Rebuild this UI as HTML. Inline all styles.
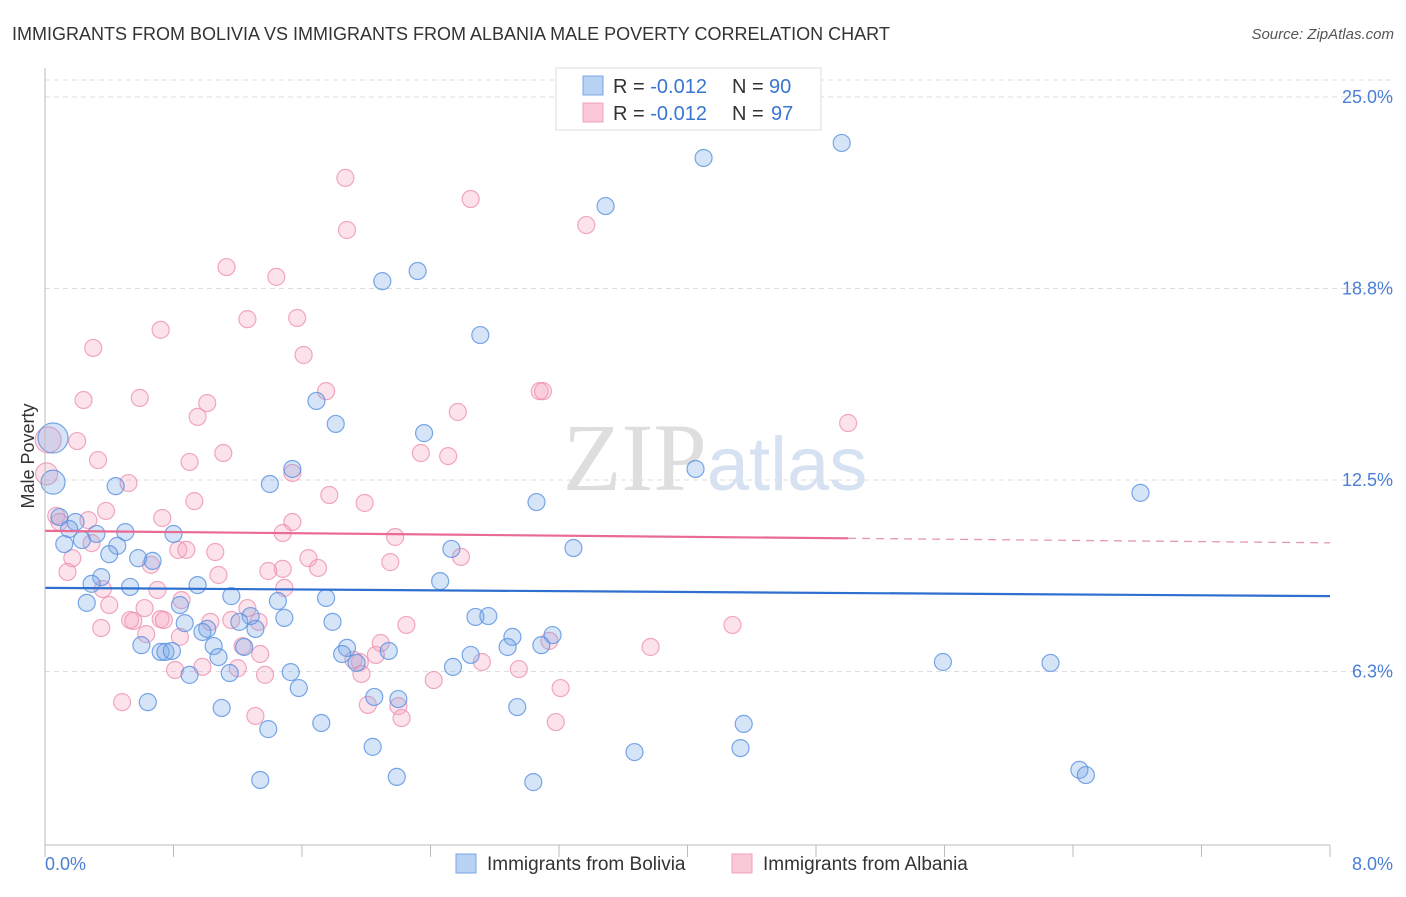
<!DOCTYPE html>
<html><head><meta charset="utf-8"><style>
body{margin:0;background:#fff;font-family:"Liberation Sans",sans-serif;}
svg text{font-family:"Liberation Sans",sans-serif;}
</style></head><body>
<svg width="1406" height="892" viewBox="0 0 1406 892">
<text x="12" y="40" font-size="18" fill="#333">IMMIGRANTS FROM BOLIVIA VS IMMIGRANTS FROM ALBANIA MALE POVERTY CORRELATION CHART</text>
<text x="1394" y="39" font-size="15" fill="#555" text-anchor="end" font-style="italic">Source: ZipAtlas.com</text>
<g id="grid"></g>
<text x="715" y="490" font-size="96" fill="#e4e4e4" text-anchor="middle" font-family="Liberation Serif"><tspan fill="#dedede" font-family="Liberation Serif">ZIP</tspan><tspan fill="#d6e2f2" font-size="76" font-family="Liberation Sans">atlas</tspan></text>
<g id="pts"></g>
<g id="lines"></g>
<line x1="45" y1="68" x2="45" y2="845" stroke="#bbb"/>
<line x1="45" y1="845" x2="1330" y2="845" stroke="#bbb"/>
<g id="xt"></g>
<text x="45" y="870" font-size="18" fill="#4a7fd4">0.0%</text>
<text x="1393" y="870" font-size="18" fill="#4a7fd4" text-anchor="end">8.0%</text>
<text x="34" y="456" font-size="18" fill="#333" text-anchor="middle" transform="rotate(-90 34 456)">Male Poverty</text>
<g>
<rect x="556" y="68" width="265" height="62" fill="#fff" stroke="#ddd"/>
<rect x="583" y="76" width="20" height="19" fill="#b8d2f4" stroke="#7aa6e6"/>
<rect x="583" y="103" width="20" height="19" fill="#fbc8d8" stroke="#f0a0bc"/>
<text x="613" y="93" font-size="20" fill="#333">R = <tspan fill="#3a75d0">-0.012</tspan></text>
<text x="732" y="93" font-size="20" fill="#333">N = </text>
<text x="769" y="93" font-size="20" fill="#3a75d0">90</text>
<text x="613" y="120" font-size="20" fill="#333">R = <tspan fill="#3a75d0">-0.012</tspan></text>
<text x="732" y="120" font-size="20" fill="#333">N = </text>
<text x="771" y="120" font-size="20" fill="#3a75d0">97</text>
</g>
<g>
<rect x="456" y="854" width="20" height="19" fill="#b8d2f4" stroke="#7aa6e6"/>
<text x="487" y="870" font-size="19" fill="#333">Immigrants from Bolivia</text>
<rect x="732" y="854" width="20" height="19" fill="#fbc8d8" stroke="#f0a0bc"/>
<text x="763" y="870" font-size="19" fill="#333">Immigrants from Albania</text>
</g>
</svg>
<script>
const yTicks=[25.0,18.75,12.5,6.25];
const yTickLabels=["25.0%","18.8%","12.5%","6.3%"];
const blueX=[0.05,0.05,4.96,4.10,3.49,2.32,2.10,2.71,1.69,1.81,2.36,1.54,1.40,4.05,3.06,6.82,0.44,0.09,0.19,0.15,0.32,0.50,0.80,0.12,0.23,0.45,0.40,0.58,0.67,2.53,3.29,0.35,0.53,0.29,0.95,1.16,2.46,0.26,0.84,1.45,1.75,0.87,1.28,1.21,1.49,1.79,2.68,2.76,1.01,0.98,1.31,0.60,0.72,0.75,0.79,1.05,1.24,1.88,1.85,2.14,2.91,2.88,3.16,3.09,1.08,1.94,2.65,2.54,1.53,1.15,0.90,1.58,2.05,2.20,0.64,1.10,2.94,1.72,1.39,4.35,2.04,4.33,3.67,5.59,6.26,6.44,6.48,1.34,2.19,3.04];
const blueY=[13.87,12.43,23.50,23.01,21.44,19.32,18.99,17.23,15.08,14.33,14.03,12.86,12.37,12.86,11.78,12.08,12.30,11.29,11.13,10.90,10.74,10.80,10.74,10.41,10.54,10.35,10.08,9.95,9.86,10.25,10.28,9.33,9.01,9.11,9.07,8.71,9.20,8.49,8.42,8.55,8.65,7.83,8.06,7.87,8.00,7.87,8.03,8.06,7.64,7.54,7.64,7.11,6.89,6.89,6.92,7.08,7.05,7.02,6.82,6.92,7.38,7.05,7.44,7.11,6.72,6.53,6.79,6.40,6.23,6.20,6.14,5.71,5.42,5.35,5.25,5.06,5.09,4.57,4.37,4.54,3.79,3.75,3.62,6.56,6.53,3.04,2.87,2.71,2.81,2.64];
const pinkX=[1.87,2.65,3.37,1.88,1.13,1.44,1.57,1.26,0.72,0.30,1.61,0.24,0.59,1.75,3.08,3.10,2.57,1.01,0.95,5.00,0.02,0.20,1.11,2.34,2.51,0.33,0.90,1.54,0.01,0.52,0.93,1.77,1.99,0.07,0.38,0.73,0.09,0.27,1.54,1.48,2.18,0.29,0.83,0.88,1.06,1.64,2.59,0.66,0.17,0.14,2.15,1.70,1.48,1.39,1.08,0.36,1.49,0.70,0.40,0.62,0.85,1.26,0.53,0.55,0.72,0.74,1.03,0.35,0.63,1.16,1.33,2.25,4.28,0.84,1.23,1.34,2.09,3.14,3.77,2.06,1.96,1.92,2.72,2.95,0.81,0.98,1.20,1.37,1.97,2.42,3.21,0.48,1.31,2.20,2.01,2.22,3.18];
const pinkY=[22.36,21.67,20.82,20.66,19.45,19.13,17.79,17.75,17.40,16.81,16.58,15.11,15.18,15.40,15.40,15.40,14.72,15.01,14.56,14.36,13.81,13.77,13.38,13.38,13.28,13.15,13.09,12.73,12.70,12.40,11.81,12.01,11.75,11.33,11.49,11.26,11.13,11.19,11.13,10.77,10.64,10.44,10.22,10.22,10.15,9.95,9.99,9.73,9.95,9.50,9.82,9.63,9.60,9.53,9.40,8.94,8.98,8.91,8.42,8.32,8.58,8.32,7.93,7.90,7.96,7.93,7.87,7.67,7.47,7.93,7.87,7.77,7.77,7.38,7.08,6.82,7.18,7.25,7.05,6.79,6.56,6.63,6.56,6.33,6.30,6.40,6.36,6.14,6.17,5.97,5.71,5.25,4.80,5.12,5.16,4.73,4.60];
const blueTrend=[8.98,8.71];
const pinkTrend=[10.84,10.45];
const pinkSolidEnd=5.0;
const xMax=8;
const sx=v=>45+v*(1330-45)/xMax;
const sy=v=>863-v*30.64;
const NS="http://www.w3.org/2000/svg";
function mk(t,a,p){const e=document.createElementNS(NS,t);for(const k in a)e.setAttribute(k,a[k]);p.appendChild(e);return e;}
const grid=document.getElementById('grid');
yTicks.forEach((t,i)=>{
 const l=mk('line',{x1:45,x2:1393,y1:sy(t),y2:sy(t),stroke:'#ddd','stroke-dasharray':'5,4'},grid);
 
 
 const tx=mk('text',{x:1393,y:sy(t)+6,'font-size':18,fill:'#4a7fd4','text-anchor':'end'},grid);
 tx.textContent=yTickLabels[i];
 
 
});
const topGrid=mk('line',{x1:45,x2:1393,y1:80,y2:80,stroke:'#ddd','stroke-dasharray':'5,4'},grid);


const xt=document.getElementById('xt');
for(let i=0;i<=10;i++){const v=i*0.8;const l=mk('line',{x1:sx(v),x2:sx(v),y1:845,y2:857,stroke:'#bbb'},xt);
 
 }
const pts=document.getElementById('pts');
pinkX.forEach((x,i)=>{const r=(i==20?13:(i==28?11:8.5));
 const c=mk('circle',{cx:sx(x),cy:sy(pinkY[i]),r:r,fill:'rgba(244,160,188,0.3)',stroke:'rgba(236,140,172,0.75)','stroke-width':1.2},pts);
 
 });
blueX.forEach((x,i)=>{const r=(i==0?15:(i==1?12:8.5));
 const c=mk('circle',{cx:sx(x),cy:sy(blueY[i]),r:r,fill:'rgba(120,165,230,0.3)',stroke:'rgba(90,145,225,0.8)','stroke-width':1.2},pts);
 
 });
const lg=document.getElementById('lines');
const bl=mk('line',{x1:sx(0),y1:sy(blueTrend[0]),x2:sx(xMax),y2:sy(blueTrend[1]),stroke:'#2e6fd0','stroke-width':2.2},lg);


const pm=pinkTrend[0]+(pinkTrend[1]-pinkTrend[0])*pinkSolidEnd/xMax;
const pl=mk('line',{x1:sx(0),y1:sy(pinkTrend[0]),x2:sx(pinkSolidEnd),y2:sy(pm),stroke:'#e96a93','stroke-width':2.2},lg);


const pd=mk('line',{x1:sx(pinkSolidEnd),y1:sy(pm),x2:sx(xMax),y2:sy(pinkTrend[1]),stroke:'#e996b0','stroke-width':1.3,'stroke-dasharray':'8,6'},lg);


</script>
</body></html>
